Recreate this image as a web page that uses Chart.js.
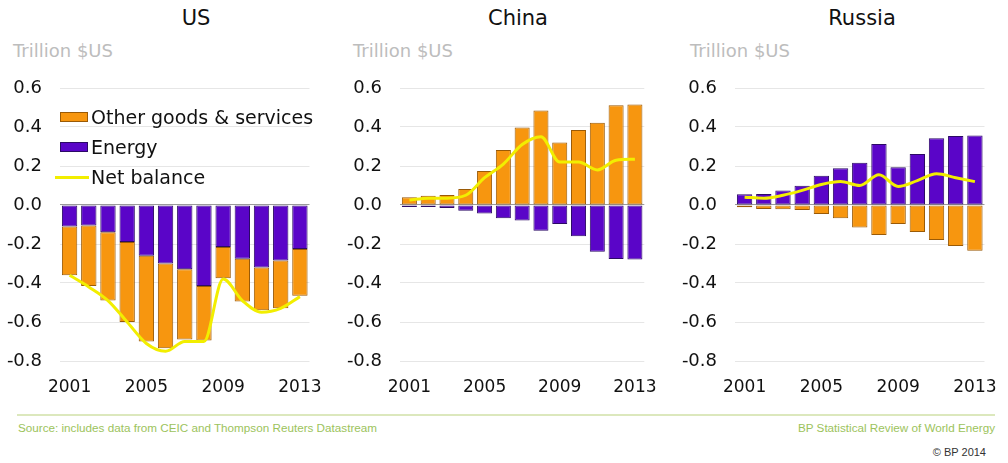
<!DOCTYPE html>
<html>
<head>
<meta charset="utf-8">
<title>Energy and non-energy trade balances</title>
<script src="https://cdn.jsdelivr.net/npm/chart.js@4.4.0/dist/chart.umd.min.js"></script>
<style>
  body { margin: 0; background: #fff; font-family: "DejaVu Sans", sans-serif; }
  #wrap { position: relative; width: 1008px; height: 463px; overflow: hidden; }
  .panel { position: absolute; top: 70px; height: 330px; }
  .title { position: absolute; top: 6px; font-size: 21px; color: #111; transform: translateX(-50%); white-space: nowrap; }
  .unit { position: absolute; top: 40px; font-size: 18px; color: #bdbdbd; white-space: nowrap; }
  .legend { position: absolute; left: 55px; top: 104px; z-index: 2; font-size: 19px; color: #111; }
  .legend div { position: relative; height: 30px; line-height: 26px; padding-left: 36px; white-space: nowrap; }
  .sw { position: absolute; left: 5px; top: 8px; width: 28px; height: 10px; box-sizing: border-box; }
  .sw.line { left: 0; width: 34px; top: 12px; height: 3px; background: #f2ee00; }
  #rule { position: absolute; left: 17px; top: 414px; width: 978px; height: 2px; background: #dce8bd; }
  .foot { position: absolute; top: 421px; font-family: "Liberation Sans", sans-serif; font-size: 11.7px; color: #9cc35c; white-space: nowrap; }
  #copy { position: absolute; top: 446px; right: 22px; font-family: "Liberation Sans", sans-serif; font-size: 11px; color: #333; }
</style>
</head>
<body>
<div id="wrap">
  <div class="title" style="left:196px">US</div>
  <div class="title" style="left:518px">China</div>
  <div class="title" style="left:862px">Russia</div>
  <div class="unit" style="left:13px">Trillion $US</div>
  <div class="unit" style="left:353px">Trillion $US</div>
  <div class="unit" style="left:690px">Trillion $US</div>

  <div class="legend">
    <div><span class="sw" style="background:#f7960f;border:1px solid #9a5a06"></span>Other goods &amp; services</div>
    <div><span class="sw" style="background:#5a05c8;border:1px solid #2c0a66"></span>Energy</div>
    <div><span class="sw line"></span>Net balance</div>
  </div>

  <div class="panel" style="left:0;width:330px"><canvas id="us"></canvas></div>
  <div class="panel" style="left:340px;width:325px"><canvas id="china"></canvas></div>
  <div class="panel" style="left:675px;width:330px"><canvas id="russia"></canvas></div>

  <div id="rule"></div>
  <div class="foot" style="left:18px">Source: includes data from CEIC and Thompson Reuters Datastream</div>
  <div class="foot" style="right:13px">BP Statistical Review of World Energy</div>
  <div id="copy">&copy; BP 2014</div>
</div>

<script>
// Trade balances 2001-2013, trillion US dollars
const years = ['2001', '2002', '2003', '2004', '2005', '2006', '2007',
               '2008', '2009', '2010', '2011', '2012', '2013'];
const yTicks = [-0.8, -0.6, -0.4, -0.2, 0.0, 0.2, 0.4, 0.6];

const usEnergy = [-0.11, -0.105, -0.14, -0.19, -0.26, -0.30, -0.33, -0.415, -0.215, -0.275, -0.32, -0.285, -0.225];
const usOther  = [-0.25, -0.31, -0.35, -0.41, -0.44, -0.435, -0.36, -0.28, -0.16, -0.22, -0.22, -0.245, -0.24];
const usNet    = [-0.36, -0.42, -0.49, -0.60, -0.71, -0.75, -0.70, -0.70, -0.38, -0.49, -0.55, -0.53, -0.47];

const chinaEnergy = [-0.01, -0.01, -0.015, -0.03, -0.043, -0.068, -0.08, -0.132, -0.097, -0.16, -0.24, -0.277, -0.28];
const chinaOther  = [0.04, 0.048, 0.051, 0.082, 0.174, 0.282, 0.398, 0.484, 0.321, 0.385, 0.422, 0.511, 0.516];
const chinaNet    = [0.025, 0.035, 0.035, 0.05, 0.14, 0.21, 0.31, 0.35, 0.22, 0.22, 0.18, 0.23, 0.235];

const russiaEnergy = [0.055, 0.056, 0.074, 0.099, 0.15, 0.188, 0.217, 0.313, 0.193, 0.262, 0.342, 0.354, 0.357];
const russiaOther  = [-0.012, -0.02, -0.022, -0.026, -0.046, -0.068, -0.116, -0.154, -0.097, -0.138, -0.18, -0.21, -0.234];
const russiaNet    = [0.04, 0.035, 0.05, 0.075, 0.105, 0.12, 0.10, 0.155, 0.095, 0.125, 0.16, 0.14, 0.12];

const ORANGE = '#f7960f', ORANGE_EDGE = '#9a5a06';
const PURPLE = '#5a05c8', PURPLE_EDGE = '#2c0a66';
const YELLOW = '#f2ee00';

Chart.defaults.font.family = '"DejaVu Sans", sans-serif';
Chart.defaults.color = '#111';

function barSet(label, data, fill, edge) {
    return {
        type: 'bar',
        label: label,
        data: data,
        backgroundColor: fill,
        borderColor: edge,
        borderWidth: 1,
        borderSkipped: false,
        categoryPercentage: 1.0,
        barPercentage: 0.8,
        stack: 'trade',
        order: 1
    };
}

function makeChart(id, energy, other, net) {
    const ctx = document.getElementById(id).getContext('2d');
    return new Chart(ctx, {
        data: {
            labels: years,
            datasets: [
                {
                    type: 'line',
                    label: 'Net balance',
                    data: net,
                    borderColor: YELLOW,
                    borderWidth: 3,
                    pointRadius: 0,
                    cubicInterpolationMode: 'monotone',
                    order: 0
                },
                // energy sits next to the zero line, other goods stack beyond it
                barSet('Energy', energy, PURPLE, PURPLE_EDGE),
                barSet('Other goods & services', other, ORANGE, ORANGE_EDGE)
            ]
        },
        options: {
            responsive: true,
            maintainAspectRatio: false,
            animation: false,
            layout: { padding: { top: 18, right: 12, bottom: 3, left: 0 } },
            plugins: {
                legend: { display: false },
                tooltip: { enabled: false }
            },
            scales: {
                x: {
                    stacked: true,
                    grid: { display: false },
                    border: { display: false },
                    afterFit: s => { s.height = 36; },
                    ticks: {
                        autoSkip: false,
                        maxRotation: 0,
                        padding: 8,
                        font: { size: 17 },
                        callback: function (val, idx) {
                            return idx % 4 === 0 ? this.getLabelForValue(val) : '';
                        }
                    }
                },
                y: {
                    stacked: true,
                    min: yTicks[0],
                    max: yTicks[yTicks.length - 1],
                    afterFit: s => { s.width = 60; },
                    afterBuildTicks: s => { s.ticks = yTicks.map(v => ({ value: v })); },
                    border: { display: false },
                    grid: {
                        // invisible tick marks keep the labels clear of the plot
                        tickLength: 18,
                        tickColor: 'rgba(0,0,0,0)',
                        color: c => Math.abs(c.tick.value) < 1e-9 ? '#9a9a9a' : '#e6e6e6',
                        lineWidth: 1
                    },
                    ticks: {
                        padding: 0,
                        font: { size: 18 },
                        callback: v => v.toFixed(1)
                    }
                }
            }
        }
    });
}

makeChart('us', usEnergy, usOther, usNet);
makeChart('china', chinaEnergy, chinaOther, chinaNet);
makeChart('russia', russiaEnergy, russiaOther, russiaNet);
</script>
</body>
</html>
